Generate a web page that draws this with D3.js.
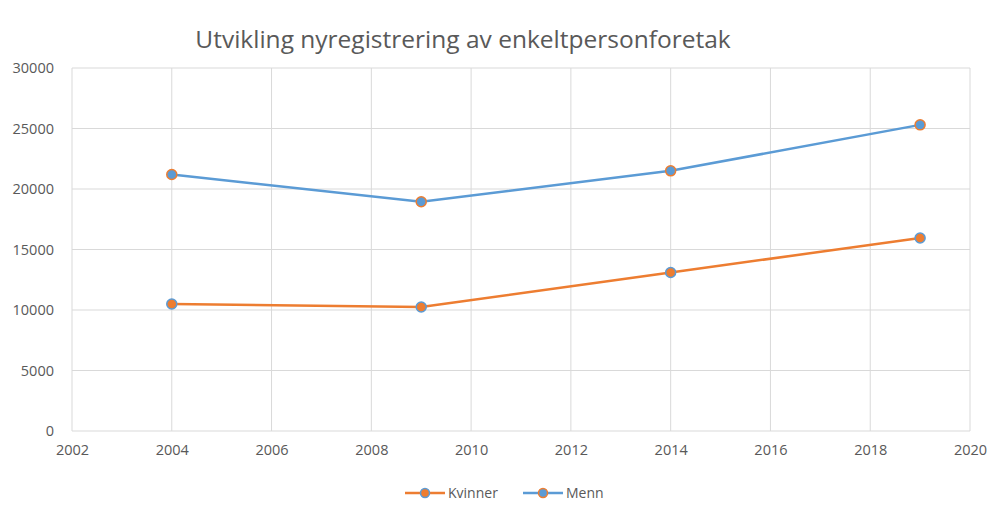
<!DOCTYPE html>
<html>
<head>
<meta charset="utf-8">
<script src="https://cdn.jsdelivr.net/npm/d3@7"></script>
<style>
  body { margin: 0; background: #fff; }
  svg text { font-family: "Open Sans", "DejaVu Sans", sans-serif; fill: #595959; }
</style>
</head>
<body>
<svg id="chart" width="1008" height="523"></svg>
<script>
const years = [2004, 2009, 2014, 2019];
const kvinner = [10500, 10250, 13100, 15950];
const menn = [21200, 18950, 21500, 25300];
const xTicks = [2002, 2004, 2006, 2008, 2010, 2012, 2014, 2016, 2018, 2020];
const yTicks = [0, 5000, 10000, 15000, 20000, 25000, 30000];

const orange = "#ed7d31";
const blue = "#5b9bd5";

const svg = d3.select("#chart");
const margin = { top: 68, right: 38, bottom: 92, left: 72 };
const width = 1008 - margin.left - margin.right;
const height = 523 - margin.top - margin.bottom;

const x = d3.scaleLinear().domain([2002, 2020]).range([0, width]);
const y = d3.scaleLinear().domain([0, 30000]).range([height, 0]);

const g = svg.append("g")
    .attr("transform", `translate(${margin.left},${margin.top})`);

// grid
g.selectAll(".hgrid")
    .data(yTicks)
    .enter().append("line")
    .attr("x1", 0).attr("x2", width)
    .attr("y1", d => y(d)).attr("y2", d => y(d))
    .style("stroke", "#d9d9d9");

g.selectAll(".vgrid")
    .data(xTicks)
    .enter().append("line")
    .attr("x1", d => x(d)).attr("x2", d => x(d))
    .attr("y1", 0).attr("y2", height)
    .style("stroke", "#d9d9d9");

// axes
const xAxis = g.append("g")
    .attr("transform", `translate(0,${height})`)
    .call(d3.axisBottom(x).tickValues(xTicks).tickFormat(d3.format("d")).tickSize(0).tickPadding(14));
const yAxis = g.append("g")
    .call(d3.axisLeft(y).tickValues(yTicks).tickFormat(d3.format("d")).tickSize(0).tickPadding(18));
[xAxis, yAxis].forEach(a => {
    a.select(".domain").remove();
    a.selectAll("text").style("font-size", "14.5px").style("fill", "#595959");
});

// series
const series = [
    { name: "Kvinner", values: kvinner, color: orange, edge: blue },
    { name: "Menn", values: menn, color: blue, edge: orange }
];

const line = d3.line()
    .x((d, i) => x(years[i]))
    .y(d => y(d));

series.forEach(s => {
    g.append("path")
        .datum(s.values)
        .attr("fill", "none")
        .style("stroke", s.color)
        .style("stroke-width", 2.5)
        .attr("d", line);

    g.selectAll(".pt-" + s.name)
        .data(s.values)
        .enter().append("circle")
        .attr("cx", (d, i) => x(years[i]))
        .attr("cy", d => y(d))
        .attr("r", 5)
        .style("fill", s.color)
        .style("stroke", s.edge)
        .style("stroke-width", 1.5);
});

// title
svg.append("text")
    .attr("x", 463)
    .attr("y", 48)
    .attr("text-anchor", "middle")
    .style("font-size", "24.5px")
    .style("fill", "#595959")
    .text("Utvikling nyregistrering av enkeltpersonforetak");

// legend
const legendX = [405, 523];
series.forEach((s, i) => {
    const lg = svg.append("g").attr("transform", `translate(${legendX[i]},493)`);
    lg.append("line")
        .attr("x1", 0).attr("x2", 40)
        .style("stroke", s.color)
        .style("stroke-width", 2.5);
    lg.append("circle")
        .attr("cx", 20).attr("r", 4.5)
        .style("fill", s.color)
        .style("stroke", s.edge)
        .style("stroke-width", 1.5);
    lg.append("text")
        .attr("x", 43).attr("dy", "0.35em")
        .style("font-size", "14px")
        .text(s.name);
});
</script>
</body>
</html>
